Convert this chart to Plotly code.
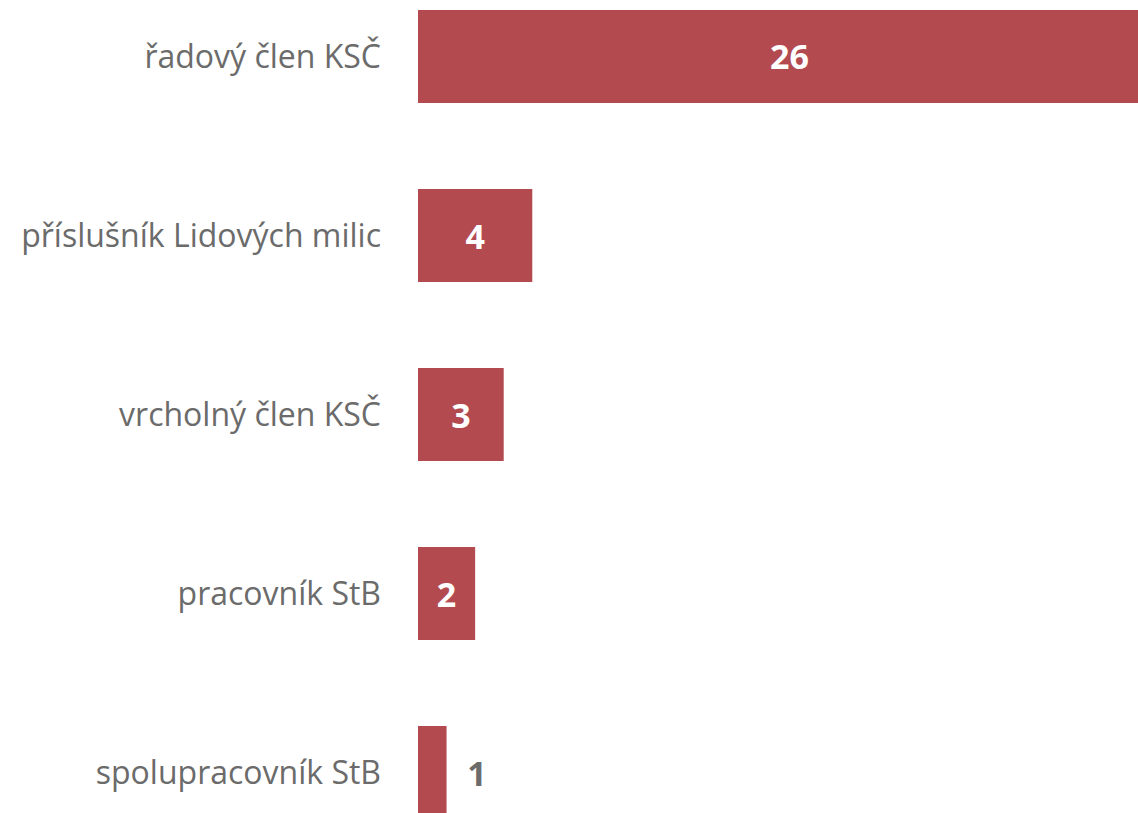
import plotly.graph_objects as go

categories = ["řadový člen KSČ", "příslušník Lidových milic", "vrcholný člen KSČ", "pracovník StB", "spolupracovník StB"]
values = [26, 4, 3, 2, 1]
label_positions = ["inside", "inside", "inside", "inside", "outside"]

BAR = "#B34A50"
GRAY = "#6B6B6B"

text_colors = ["white" if p == "inside" else GRAY for p in label_positions]
templates = ["%{x}" if p == "inside" else "\u00a0\u00a0%{x}" for p in label_positions]

fig = go.Figure(go.Bar(
    x=values,
    y=list(range(len(categories))),
    orientation="h",
    marker=dict(color=BAR, line=dict(width=0)),
    texttemplate=templates,
    textposition=label_positions,
    insidetextanchor="middle",
    textfont=dict(family="Open Sans", size=34, color=text_colors, weight="bold"),
    constraintext="none",
    cliponaxis=True,
    width=0.52,
    hoverinfo="skip",
))

fig.update_layout(
    width=1138,
    height=813,
    margin=dict(l=418, r=0, t=0, b=0),
    paper_bgcolor="white",
    plot_bgcolor="white",
    showlegend=False,
)
fig.update_xaxes(range=[0, 25.2], visible=False, showgrid=False, zeroline=False)
fig.update_yaxes(
    range=[4.226, -0.3156],
    tickmode="array",
    tickvals=list(range(len(categories))),
    ticktext=categories,
    showgrid=False,
    zeroline=False,
    showline=False,
    ticks="",
    ticklabelstandoff=36,
    tickfont=dict(family="Open Sans", size=32, color=GRAY),
)

fig.write_html(
    "out.html",
    config={"displayModeBar": False},
    post_script="document.body.style.margin='0';document.body.style.overflow='hidden';",
)
